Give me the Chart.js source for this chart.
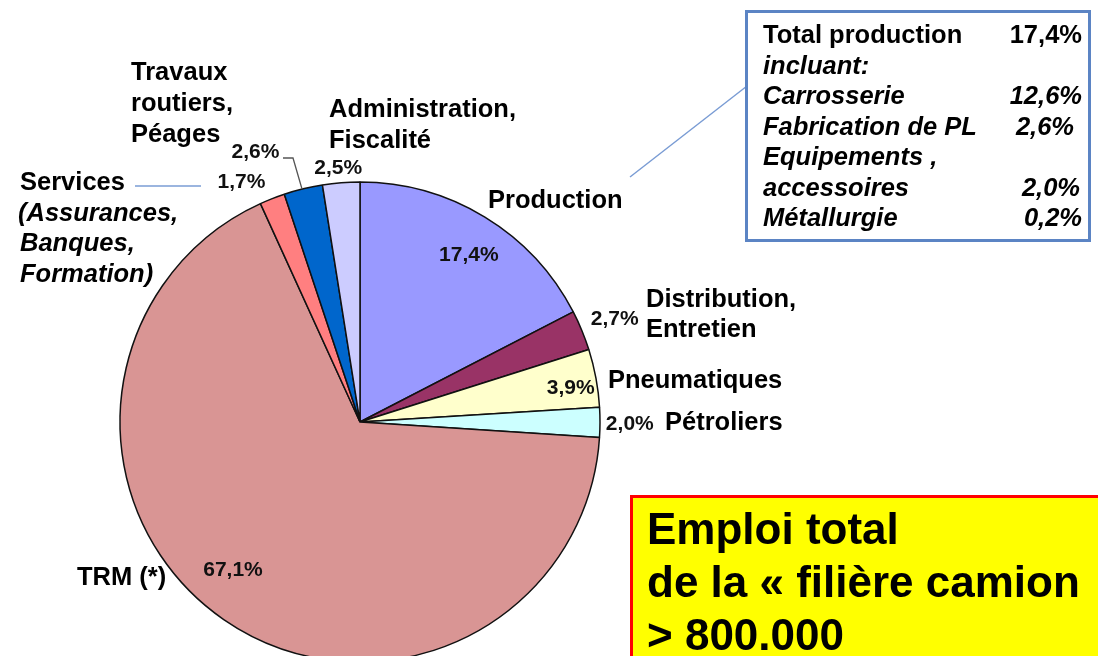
<!DOCTYPE html>
<html lang="fr">
  <head>
    <meta charset="UTF-8" />
    <title>Emploi de la filière camion</title>
    <style>
      html, body {
        margin: 0;
        padding: 0;
        background: #fff;
      }
      #page {
        position: relative;
        width: 1098px;
        height: 656px;
        overflow: hidden;
        font-family: "Liberation Sans", Arial, sans-serif;
        color: #000;
      }
      #pie {
        position: absolute;
        left: 0;
        top: 0;
      }
      .lbl {
        position: absolute;
        font-weight: bold;
        font-size: 25.5px;
        line-height: 31px;
        white-space: nowrap;
      }
      .it {
        font-style: italic;
      }
      #info {
        position: absolute;
        left: 745px;
        top: 10px;
        width: 346px;
        height: 232px;
        border: 3px solid #5b84c4;
        box-sizing: border-box;
        background: #fff;
      }
      #infoRows {
        position: absolute;
        left: 763px;
        top: 19px;
        width: 319px;
        font-weight: bold;
        font-size: 25.5px;
        line-height: 30.5px;
        white-space: nowrap;
      }
      #infoRows div {
        display: flex;
        justify-content: space-between;
      }
      #total {
        position: absolute;
        left: 630px;
        top: 495px;
        width: 520px;
        height: 220px;
        border: 3px solid #ff0000;
        background: #ffff00;
        box-sizing: border-box;
      }
      #totalText {
        position: absolute;
        left: 647px;
        top: 502px;
        font-weight: bold;
        font-size: 44px;
        line-height: 53px;
        white-space: nowrap;
      }
      svg {
        position: absolute;
        left: 0;
        top: 0;
      }
    </style>
  </head>
  <body>
    <div id="page">
      <canvas id="pie" width="1098" height="844"></canvas>

      <svg width="1098" height="656">
        <line x1="747" y1="86" x2="630" y2="177" stroke="#7a9cd4" stroke-width="1.5" />
        <line x1="135" y1="186" x2="201" y2="186" stroke="#7a9cd4" stroke-width="1.5" />
        <polyline points="283,158 293,158 302,189" fill="none" stroke="#555" stroke-width="1.3" />
      </svg>

      <div class="lbl" style="left:131px; top:56px">Travaux<br />routiers,<br />Péages</div>
      <div class="lbl" style="left:329px; top:93px">Administration,<br />Fiscalité</div>
      <div class="lbl" style="left:488px; top:184px">Production</div>
      <div class="lbl" style="left:20px; top:166px; line-height:30.7px">
        Services<br /><span class="it" style="margin-left:-2px">(Assurances,</span><br /><span class="it">Banques,</span><br /><span class="it">Formation)</span>
      </div>
      <div class="lbl" style="left:646px; top:283px; line-height:30px">Distribution,<br />Entretien</div>
      <div class="lbl" style="left:608px; top:364px">Pneumatiques</div>
      <div class="lbl" style="left:665px; top:406px">Pétroliers</div>
      <div class="lbl" style="left:77px; top:561px">TRM (*)</div>

      <div id="info"></div>
      <div id="infoRows"></div>

      <div id="total"></div>
      <div id="totalText">Emploi total<br />de la « filière camion<br />&gt; 800.000</div>
    </div>

    <script src="https://cdn.jsdelivr.net/npm/chart.js"></script>
    <script>
      // parts de l'emploi (%), dans le sens horaire depuis midi
      const categories = [
        "Production",
        "Distribution, Entretien",
        "Pneumatiques",
        "Pétroliers",
        "TRM (*)",
        "Services (Assurances, Banques, Formation)",
        "Travaux routiers, Péages",
        "Administration, Fiscalité",
      ];
      const shares = [17.4, 2.7, 3.9, 2.0, 67.1, 1.7, 2.6, 2.5];
      const colors = [
        "#9999ff",
        "#993366",
        "#ffffcc",
        "#ccffff",
        "#d99594",
        "#ff7f80",
        "#0066cc",
        "#ccccff",
      ];

      // détail de la production
      const productionTotal = 17.4;
      const productionParts = ["Carrosserie", "Fabrication de PL", "Equipements ,<br>accessoires", "Métallurgie"];
      const productionValues = [12.6, 2.6, 2.0, 0.2];

      // placement of the % labels: [radius factor, dx, dy]
      const labelPlace = [
        [0.8, 9, -3],
        [1.13, 4, 1],
        [0.88, 3, 5],
        [1.12, 1, 2],
        [0.8, -18, -10],
        [1.1, -22, 6],
        [1.1, -42, -13],
        [1.05, -2, -3],
      ];

      const fmt = (v) => v.toFixed(1).replace(".", ",") + "%";

      // info box rows
      const rows = document.getElementById("infoRows");
      let html = "<div><span>Total production</span><span>" + fmt(productionTotal) + "</span></div>";
      html += '<div class="it"><span>incluant:</span></div>';
      const pad = [0, 8, 2, 0];
      productionParts.forEach((p, i) => {
        if (p.includes("<br>")) {
          const parts = p.split("<br>");
          html += '<div class="it"><span>' + parts[0] + "</span></div>";
          p = parts[1];
        }
        html +=
          '<div class="it"><span>' + p + '</span><span style="padding-right:' + pad[i] + 'px">' +
          fmt(productionValues[i]) + "</span></div>";
      });
      rows.innerHTML = html;

      const pctLabels = {
        id: "pctLabels",
        afterDatasetsDraw(chart) {
          const ctx = chart.ctx;
          const meta = chart.getDatasetMeta(0);
          ctx.save();
          ctx.font = 'bold 21px "Liberation Sans", Arial, sans-serif';
          ctx.fillStyle = "#111";
          ctx.textAlign = "center";
          ctx.textBaseline = "middle";
          meta.data.forEach((arc, i) => {
            const p = arc.getProps(["x", "y", "startAngle", "endAngle", "outerRadius"], true);
            const mid = (p.startAngle + p.endAngle) / 2;
            const [f, dx, dy] = labelPlace[i];
            const d = p.outerRadius * f;
            ctx.fillText(fmt(shares[i]), p.x + Math.cos(mid) * d + dx, p.y + Math.sin(mid) * d + dy);
          });
          ctx.restore();
        },
      };

      const ctx = document.getElementById("pie").getContext("2d");
      new Chart(ctx, {
        type: "pie",
        data: {
          labels: categories,
          datasets: [
            {
              data: shares,
              backgroundColor: colors,
              borderColor: "#111",
              borderWidth: 1.5,
            },
          ],
        },
        options: {
          responsive: false,
          animation: false,
          radius: 240,
          layout: { padding: { left: 0, right: 378, top: 0, bottom: 0 } },
          plugins: {
            legend: { display: false },
            tooltip: { enabled: false },
          },
        },
        plugins: [pctLabels],
      });
    </script>
  </body>
</html>
